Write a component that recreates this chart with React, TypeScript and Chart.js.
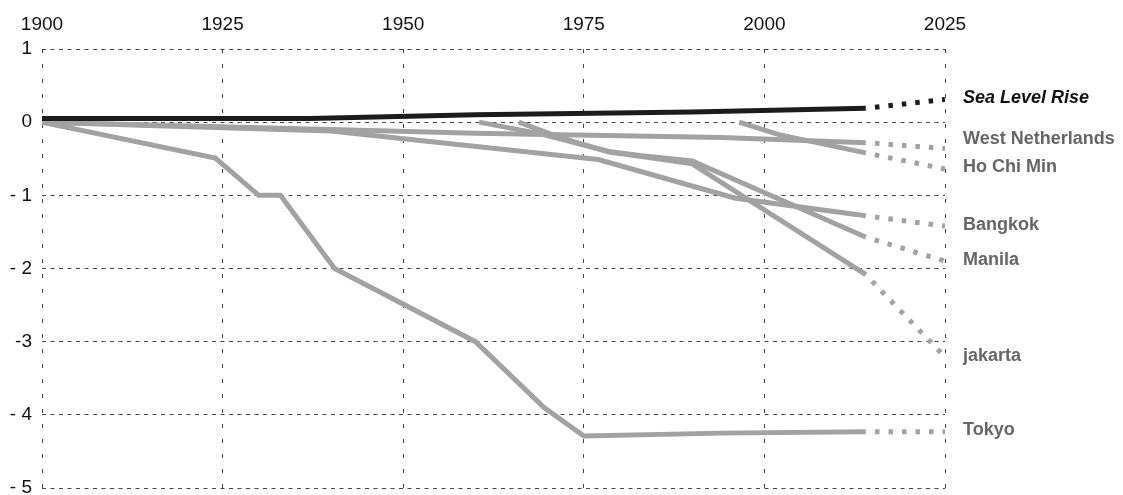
import React, { useEffect, useRef } from 'react';
import { Chart, registerables } from 'chart.js';

Chart.register(...registerables);

// ---- axis ticks ----
const xTickYears = [1900, 1925, 1950, 1975, 2000, 2025];
const xTickLabels = ['1900', '1925', '1950', '1975', '2000', '2025'];
const yTickValues = [1, 0, -1, -2, -3, -4, -5];
const yTickLabels = ['1', '0', '- 1', '- 2', '-3', '- 4', '- 5'];

// ---- series ----
const lastObservedYear = 2014;
const projectionYear = 2025;

const seriesNames = ['Sea Level Rise', 'West Netherlands', 'Ho Chi Min', 'Bangkok', 'Manila', 'jakarta', 'Tokyo'];

const seaLevelYears = [1900, 1937, 1960, 1990, 2014];
const seaLevelValues = [0.05, 0.05, 0.1, 0.14, 0.19];
const seaLevelProjection = 0.31;

const westNetherlandsYears = [1900, 1940, 1960, 1994, 2014];
const westNetherlandsValues = [0, -0.1, -0.15, -0.21, -0.28];
const westNetherlandsProjection = -0.36;

const hoChiMinYears = [1996.5, 2002, 2014];
const hoChiMinValues = [0, -0.17, -0.42];
const hoChiMinProjection = -0.64;

const bangkokYears = [1900, 1940, 1977, 1996, 2014];
const bangkokValues = [0, -0.12, -0.51, -1.04, -1.28];
const bangkokProjection = -1.42;

const manilaYears = [1960.5, 1969, 1978.5, 1983, 1990, 2014];
const manilaValues = [0, -0.16, -0.4, -0.46, -0.53, -1.57];
const manilaProjection = -1.9;

const jakartaYears = [1966, 1972, 1978.5, 1983, 1990, 2014];
const jakartaValues = [0, -0.22, -0.41, -0.47, -0.57, -2.08];
const jakartaProjection = -3.21;

const tokyoYears = [1900, 1924, 1930, 1933, 1940.5, 1960, 1969.5, 1975, 1994, 2014];
const tokyoValues = [0, -0.49, -1, -1, -2, -3, -3.9, -4.29, -4.25, -4.23];
const tokyoProjection = -4.23;

const seriesYears = [seaLevelYears, westNetherlandsYears, hoChiMinYears, bangkokYears, manilaYears, jakartaYears, tokyoYears];
const seriesValues = [seaLevelValues, westNetherlandsValues, hoChiMinValues, bangkokValues, manilaValues, jakartaValues, tokyoValues];
const seriesProjections = [seaLevelProjection, westNetherlandsProjection, hoChiMinProjection, bangkokProjection, manilaProjection, jakartaProjection, tokyoProjection];

const FONT = '"Liberation Sans", Arial, Helvetica, sans-serif';
const BLACK = '#1c1c1c';
const GRAY = '#a2a2a2';

const endLabelsPlugin = {
  id: 'endLabels',
  afterDraw(chart: any) {
    const { ctx, chartArea, scales } = chart;
    const yScale = scales.y;
    const items = seriesNames.map((name, i) => ({
      name,
      highlight: i === 0,
      y: yScale.getPixelForValue(seriesProjections[i]) - 1.5,
    }));
    const sorted = [...items].sort((a, b) => a.y - b.y);
    const minGap = 28;
    for (let i = sorted.length - 2; i >= 0; i--) {
      if (sorted[i].y > sorted[i + 1].y - minGap) sorted[i].y = sorted[i + 1].y - minGap;
    }
    ctx.save();
    ctx.textAlign = 'left';
    ctx.textBaseline = 'middle';
    for (const it of sorted) {
      ctx.font = it.highlight ? `italic bold 18px ${FONT}` : `bold 18px ${FONT}`;
      ctx.fillStyle = it.highlight ? '#111111' : '#666666';
      ctx.fillText(it.name, chartArea.right + 18, it.y);
    }
    ctx.restore();
  },
};

export default function App() {
  const canvasRef = useRef<HTMLCanvasElement | null>(null);

  useEffect(() => {
    if (!canvasRef.current) return;
    const datasets: any[] = [];
    seriesNames.forEach((name, i) => {
      const color = i === 0 ? BLACK : GRAY;
      const years = seriesYears[i];
      const values = seriesValues[i];
      datasets.push({
        label: name,
        data: years.map((yr, j) => ({ x: yr, y: values[j] })),
        borderColor: color,
        borderWidth: 5,
        pointRadius: 0,
        tension: 0,
        borderCapStyle: 'butt',
        borderJoinStyle: 'miter',
        fill: false,
      });
      datasets.push({
        label: name + ' projection',
        data: [
          { x: lastObservedYear, y: values[values.length - 1] },
          { x: projectionYear, y: seriesProjections[i] },
        ],
        borderColor: color,
        borderWidth: 5,
        borderDash: [4.5, 9],
        borderDashOffset: 4,
        pointRadius: 0,
        tension: 0,
        borderCapStyle: 'butt',
        fill: false,
      });
    });

    const chart = new Chart(canvasRef.current, {
      type: 'line',
      data: { datasets },
      options: {
        animation: false,
        responsive: false,
        devicePixelRatio: 1,
        layout: { padding: { left: 0, top: 0, right: 178, bottom: 7 } },
        plugins: {
          legend: { display: false },
          tooltip: { enabled: false },
        },
        scales: {
          x: {
            type: 'linear',
            position: 'top',
            min: 1900,
            max: 2025,
            afterBuildTicks: (scale: any) => {
              scale.ticks = xTickYears.map((v) => ({ value: v }));
            },
            afterFit: (scale: any) => {
              scale.height = 49;
            },
            ticks: {
              autoSkip: false,
              maxRotation: 0,
              padding: 13,
              color: '#111111',
              font: { size: 19, family: FONT },
              callback: (v: any) => {
                const idx = xTickYears.indexOf(Number(v));
                return idx >= 0 ? xTickLabels[idx] : '';
              },
            },
            grid: { color: '#444444', lineWidth: 1, drawTicks: false },
            border: { display: false, dash: [4, 11] },
          },
          y: {
            type: 'linear',
            min: -5,
            max: 1,
            afterBuildTicks: (scale: any) => {
              scale.ticks = yTickValues.map((v) => ({ value: v }));
            },
            afterFit: (scale: any) => {
              scale.width = 42;
              scale.paddingTop = 0;
              scale.paddingBottom = 0;
            },
            ticks: {
              autoSkip: false,
              padding: 10,
              color: '#111111',
              font: { size: 19, family: FONT },
              callback: (v: any) => {
                const idx = yTickValues.indexOf(Number(v));
                return idx >= 0 ? yTickLabels[idx] : '';
              },
            },
            grid: { color: '#444444', lineWidth: 1, drawTicks: false },
            border: { display: false, dash: [4, 4.5] },
          },
        },
      },
      plugins: [endLabelsPlugin],
    } as any);

    return () => chart.destroy();
  }, []);

  return (
    <div style={{ position: 'fixed', left: 0, top: 0, width: 1123, height: 495, background: '#ffffff' }}>
      <canvas ref={canvasRef} width={1123} height={495} style={{ display: 'block' }} />
    </div>
  );
}
